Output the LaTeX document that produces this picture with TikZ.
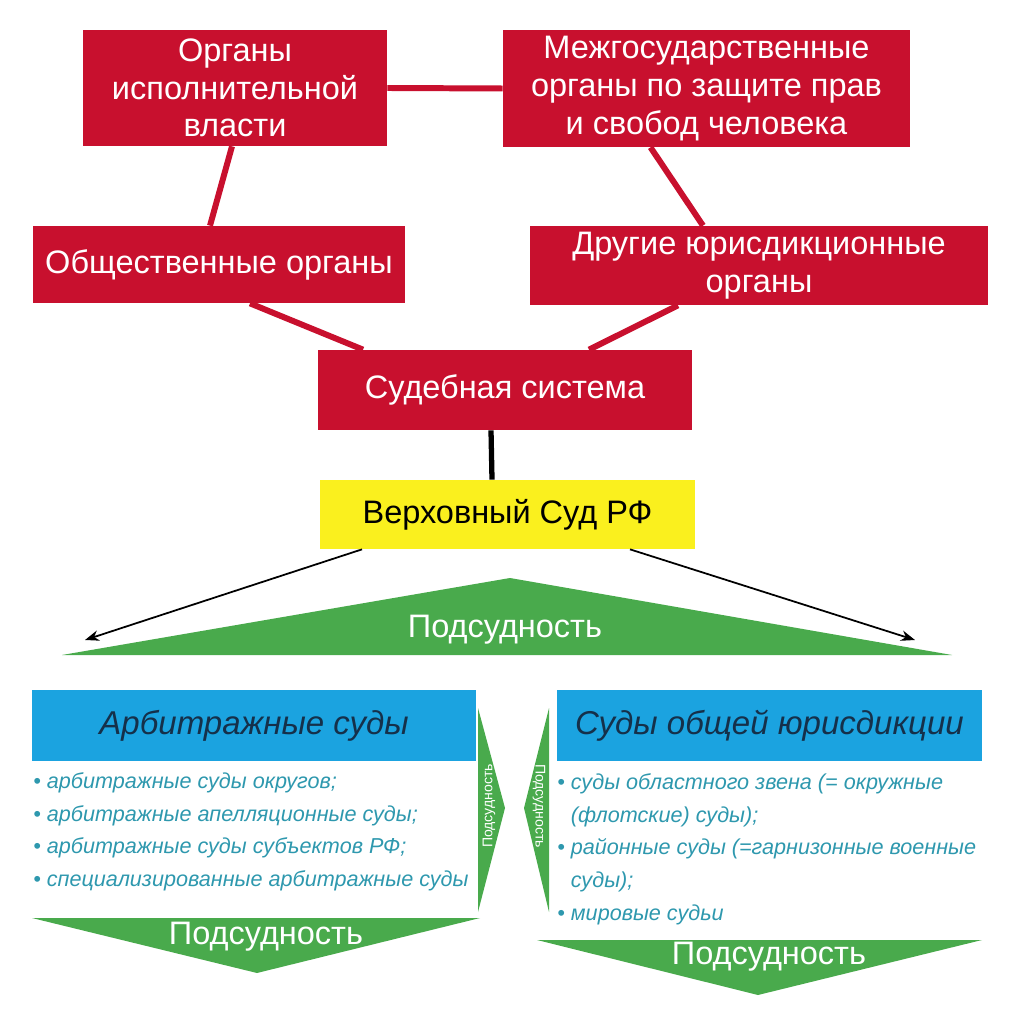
\documentclass[tikz,border=0pt]{standalone}
\usepackage{fontspec}
\setmainfont{Liberation Sans}
\usetikzlibrary{arrows.meta}
\definecolor{crim}{HTML}{C8102E}
\definecolor{sun}{HTML}{FAF01E}
\definecolor{leaf}{HTML}{49AA4C}
\definecolor{sky}{HTML}{1BA3E0}
\definecolor{navy}{HTML}{15304A}
\definecolor{tealtx}{HTML}{2E98AE}
\tikzset{organ/.style={rectangle,fill=crim,text=white,align=center,inner sep=0pt,
    font=\fontsize{18.5}{21.5}\selectfont},
  court/.style={organ,fill=sun,text=black},
  branch/.style={rectangle,fill=sky,text=navy,inner sep=0pt,minimum height=1.42cm,
    font=\fontsize{18.8}{23}\selectfont\itshape},
  items/.style={anchor=north west,align=left,inner sep=0pt,text=tealtx,
    font=\fontsize{12.3}{18.7}\selectfont\itshape},
  link/.style={draw=crim,line width=3.4pt},stem/.style={draw=black,line width=3pt},
  ray/.style={draw=black,line width=1pt,-{Stealth[length=8pt,width=6pt]}},
  wedge/.style={fill=leaf},
  wlabel/.style={text=white,inner sep=0pt,font=\fontsize{18.5}{21}\selectfont},
  vlabel/.style={text=white,inner sep=0pt,font=\fontsize{8}{9}\selectfont}}

\begin{document}
\begin{tikzpicture}[x=0.02cm,y=-0.02cm]
\useasboundingbox (0,0) rectangle (1024,1023);
\node[organ,minimum width=6.08cm,minimum height=2.32cm] (exec) at (235,88) {Органы\\исполнительной\\власти};
\node[organ,minimum width=8.14cm,minimum height=2.34cm] (inter) at (706.5,88.5) {Межгосударственные\\органы по защите прав\\и свобод человека};
\node[organ,minimum width=7.44cm,minimum height=1.54cm] (public) at (219,264.5) {Общественные органы};
\node[organ,minimum width=9.16cm,minimum height=1.58cm] (juris) at (759,265.5) {Другие юрисдикционные\\органы};
\node[organ,minimum width=7.48cm,minimum height=1.6cm] (judic) at (505,390) {Судебная система};
\node[court,minimum width=7.5cm,minimum height=1.38cm] (supreme) at (507.5,514.5) {Верховный Суд РФ};
\draw[link] (exec.east) -- (inter.west);
\draw[link] ([xshift=-0.06cm]exec.south) -- ([xshift=-0.18cm]public.north);
\draw[link] ([xshift=-1.12cm]inter.south) -- ([xshift=-1.12cm]juris.north);
\draw[link] ([xshift=0.62cm]public.south) -- ([xshift=-2.84cm]judic.north);
\draw[link] ([xshift=-1.62cm]juris.south) -- ([xshift=1.68cm]judic.north);
\draw[stem] ([xshift=-0.28cm]judic.south) -- ([xshift=-0.31cm]supreme.north);
\fill[wedge] (62,655) -- (510,578) -- (952,655) -- cycle;
\node[wlabel] (podTop) at (505,630) {Подсудность};
\coordinate (rayL) at (85,640);
\coordinate (rayR) at (915,640);
\draw[ray] ([xshift=-2.91cm]supreme.south) -- (rayL);
\draw[ray] ([xshift=2.45cm]supreme.south) -- (rayR);
\node[branch,minimum width=8.88cm] (arb) at (254,725.5) {Арбитражные суды};
\node[branch,minimum width=8.5cm] (gen) at (769.5,725.5) {Суды общей юрисдикции};
\node[items] (arbList) at (33,772) {• арбитражные суды округов;\\• арбитражные апелляционные суды;\\• арбитражные суды субъектов РФ;\\• специализированные арбитражные суды};
\node[items] (genList) at (557,773) {• суды областного звена (= окружные\\\hphantom{• }(флотские) суды);\\• районные суды (=гарнизонные военные\\\hphantom{• }суды);\\• мировые судьи};
\fill[wedge] (478,708) -- (505,808) -- (478,912) -- cycle;
\node[vlabel,rotate=90] (podR) at (489,806) {Подсудность};
\fill[wedge] (549,708) -- (524,808) -- (549,912) -- cycle;
\node[vlabel,rotate=-90] (podL) at (539,806) {Подсудность};
\fill[wedge] (32,918) -- (480,918) -- (257,973) -- cycle;
\node[wlabel] (podA) at (266,937) {Подсудность};
\fill[wedge] (537,940) -- (982,940) -- (758,995) -- cycle;
\node[wlabel] (podB) at (769,957) {Подсудность};
\end{tikzpicture}
\end{document}
